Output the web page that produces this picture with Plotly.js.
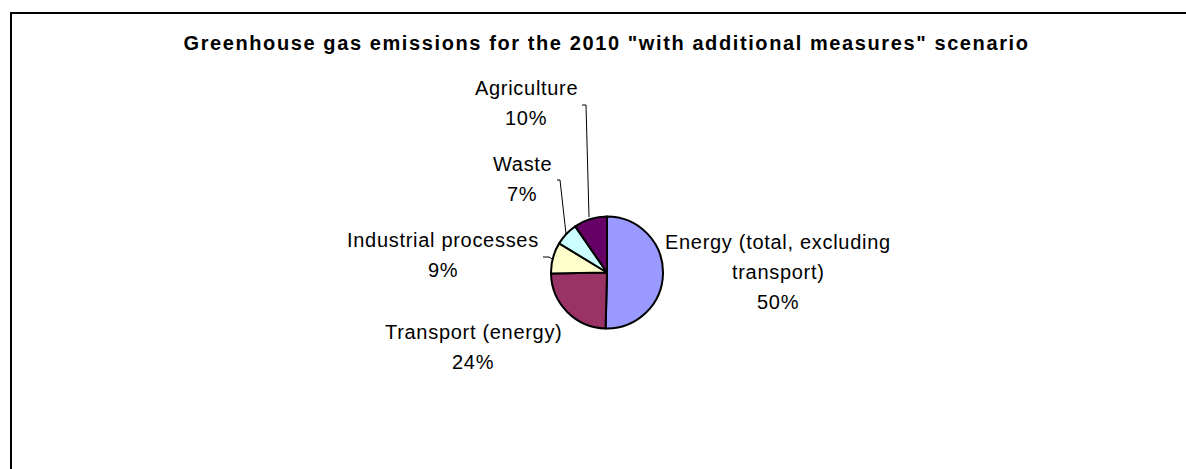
<!DOCTYPE html>
<html>
<head>
<meta charset="utf-8">
<script src="https://cdn.plot.ly/plotly-3.0.1.min.js"></script>
<style>
  html, body { margin: 0; padding: 0; background: #fff; }
  #chart { width: 1186px; height: 469px; }
  .gtitle { letter-spacing: 1.6px; }
  .annotation-text { letter-spacing: 0.7px; }
</style>
</head>
<body>
<div id="chart"></div>
<script>
// ---- data ----
const titleText = 'Greenhouse gas emissions for the 2010 "with additional measures" scenario';
const categories = ['Energy (total, excluding<br>transport)', 'Transport (energy)', 'Industrial processes', 'Waste', 'Agriculture'];
const shares = [50.4, 24.3, 9.0, 6.7, 9.6];
const sliceColors = ['#9999FF', '#993366', '#FFFFCC', '#CCFFFF', '#660066'];

// ---- layout helpers (pixel -> paper, margins are zero) ----
const W = 1186, H = 469;
const px = x => x / W;
const py = y => 1 - y / H;

const cx = 607, cy = 272.5, R = 56;

// label placement (line centres in pixels) per category
const labelPos = [
  {x: 778, y: 242},
  {x: 473, y: 332},
  {x: 443, y: 240},
  {x: 522, y: 164},
  {x: 526, y: 88}
];
const linePitch = 30;

const total = shares.reduce((a, b) => a + b, 0);
const annotations = [];
categories.forEach((c, i) => {
  const lines = c.split('<br>');
  lines.push(Math.round(shares[i] / total * 100) + '%');
  lines.forEach((t, k) => {
    annotations.push({
      text: t, showarrow: false,
      xref: 'paper', yref: 'paper',
      x: px(labelPos[i].x), y: py(labelPos[i].y + k * linePitch),
      xanchor: 'center', yanchor: 'middle',
      font: {family: '"Liberation Sans", Arial, sans-serif', size: 20, color: '#000'}
    });
  });
});

// leader lines (pixel polylines)
const leaders = [
  [[582, 105], [586, 105], [589, 217]],
  [[557, 180], [560, 180], [566, 234]],
  [[543, 257], [549, 257], [552, 259]]
];
const shapes = leaders.map(pts => ({
  type: 'path', xref: 'paper', yref: 'paper',
  path: pts.map((p, k) => (k ? 'L' : 'M') + px(p[0]) + ',' + py(p[1])).join(' '),
  line: {color: '#000', width: 1}
}));
// chart frame (left and top edges visible)
shapes.push({
  type: 'rect', xref: 'paper', yref: 'paper',
  x0: px(11), x1: px(1250), y0: py(520), y1: py(13),
  line: {color: '#000', width: 2}, fillcolor: 'rgba(0,0,0,0)'
});

const trace = {
  type: 'pie',
  labels: categories,
  values: shares,
  sort: false,
  direction: 'clockwise',
  rotation: 0,
  textinfo: 'none',
  hoverinfo: 'skip',
  marker: {colors: sliceColors, line: {color: '#000', width: 2}},
  domain: {x: [px(cx - R), px(cx + R)], y: [py(cy + R), py(cy - R)]},
  showlegend: false
};

const layout = {
  width: W, height: H,
  margin: {l: 0, r: 0, t: 0, b: 0},
  paper_bgcolor: '#fff',
  showlegend: false,
  title: {
    text: '<b>' + titleText + '</b>',
    xref: 'paper', yref: 'paper',
    x: px(606.5), y: py(43), xanchor: 'center', yanchor: 'middle',
    font: {family: '"Liberation Sans", Arial, sans-serif', size: 20, color: '#000'}
  },
  annotations: annotations,
  shapes: shapes
};

Plotly.newPlot('chart', [trace], layout, {staticPlot: true, displayModeBar: false});
</script>
</body>
</html>
